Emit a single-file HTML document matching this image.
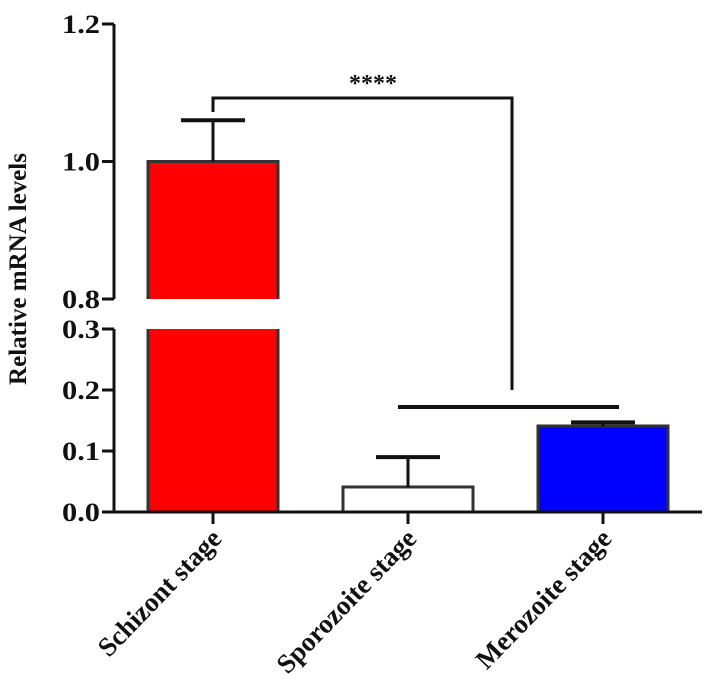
<!DOCTYPE html>
<html><head><meta charset="utf-8"><style>
html,body{margin:0;padding:0;background:#fff;}
svg{display:block;}
text{font-family:"Liberation Serif",serif;font-weight:bold;fill:#111;}
</style></head><body>
<svg id="chart" width="708" height="697"></svg>
<script>
const categories = ["Schizont stage","Sporozoite stage","Merozoite stage"];
const values = [1.0, 0.041, 0.141];
const errors = [0.06, 0.049, 0.006];
const colors = ["#ff0000","#ffffff","#0000ff"];
const upperTicks = [0.8, 1.0, 1.2];
const lowerTicks = [0.0, 0.1, 0.2, 0.3];
const tickLabels = {"0.8":"0.8","1":"1.0","1.2":"1.2","0":"0.0","0.1":"0.1","0.2":"0.2","0.3":"0.3"};

const NS="http://www.w3.org/2000/svg";
const svg=document.getElementById('chart');
function mk(tag,attrs,parent){const e=document.createElementNS(NS,tag);for(const k in attrs)e.setAttribute(k,attrs[k]);(parent||svg).appendChild(e);return e;}
const axX=114, xEnd=702;
const lowY0=512, lowY1=329, lowMax=0.3;
const upY0=299, upY1=24, upMin=0.8, upMax=1.2;
function y(v){ if(v<=lowMax) return lowY0-(v/lowMax)*(lowY0-lowY1); if(v>=upMin) return upY0-(v-upMin)/(upMax-upMin)*(upY0-upY1); return null; }
const bandW=195, firstC=213, barW=130;
function xc(i){return firstC+i*bandW;}

categories.forEach((c,i)=>{
  const x0=xc(i)-barW/2, v=values[i];
  const g=mk('g',{});
  
  
  if(v>lowMax){
    mk('rect',{x:x0,y:lowY1,width:barW,height:lowY0-lowY1,fill:colors[i]},g);
    mk('line',{x1:x0,y1:lowY1,x2:x0,y2:lowY0,stroke:'#333','stroke-width':3},g);
    mk('line',{x1:x0+barW,y1:lowY1,x2:x0+barW,y2:lowY0,stroke:'#333','stroke-width':3},g);
    const ty=y(v);
    mk('rect',{x:x0,y:ty,width:barW,height:upY0-ty,fill:colors[i]},g);
    mk('polyline',{points:`${x0},${upY0} ${x0},${ty} ${x0+barW},${ty} ${x0+barW},${upY0}`,fill:'none',stroke:'#333','stroke-width':3},g);
  } else {
    const ty=y(v);
    mk('rect',{x:x0,y:ty,width:barW,height:lowY0-ty,fill:colors[i],stroke:'#333','stroke-width':3},g);
  }
  const ve=values[i]+errors[i];
  const e=mk('g',{});
  
  
  mk('line',{x1:xc(i),y1:y(v),x2:xc(i),y2:y(ve),stroke:'#111','stroke-width':3},e);
  mk('line',{x1:xc(i)-32,y1:y(ve),x2:xc(i)+32,y2:y(ve),stroke:'#111','stroke-width':4},e);
});

const ya=mk('g',{});


mk('line',{x1:axX,y1:upY1,x2:axX,y2:upY0,stroke:'#111','stroke-width':3},ya);
mk('line',{x1:axX,y1:lowY1,x2:axX,y2:lowY0,stroke:'#111','stroke-width':3},ya);
upperTicks.concat(lowerTicks).forEach(t=>{
  const ty=y(t);
  mk('line',{x1:axX-12,y1:ty,x2:axX,y2:ty,stroke:'#111','stroke-width':3},ya);
  const tx=mk('text',{x:axX-14,y:ty+9,'text-anchor':'end','font-size':26,'textLength':38,'lengthAdjust':'spacingAndGlyphs'},ya);
  tx.textContent=tickLabels[String(t)];
  
  
});
const yt=mk('text',{x:0,y:0,'text-anchor':'middle','font-size':25,transform:'translate(26,269) rotate(-90)'});
yt.textContent='Relative mRNA levels';



const xa=mk('g',{});


mk('line',{x1:axX-8,y1:lowY0,x2:xEnd,y2:lowY0,stroke:'#111','stroke-width':3},xa);
categories.forEach((c,i)=>{
  mk('line',{x1:xc(i),y1:lowY0,x2:xc(i),y2:lowY0+12,stroke:'#111','stroke-width':3},xa);
  const t=mk('text',{x:0,y:0,'text-anchor':'end','font-size':27,transform:`translate(${xc(i)+10},${lowY0+28}) rotate(-46)`},xa);
  t.textContent=c;
  
  
});

const sg=mk('g',{});


mk('polyline',{points:`${xc(0)},112 ${xc(0)},98 512,98 512,390`,fill:'none',stroke:'#111','stroke-width':3},sg);
mk('line',{x1:398,y1:407,x2:619,y2:407,stroke:'#111','stroke-width':4},sg);
const st=mk('text',{x:373,y:91,'text-anchor':'middle','font-size':24,'font-weight':'normal'},sg);
st.textContent='****';


</script>
</body></html>
